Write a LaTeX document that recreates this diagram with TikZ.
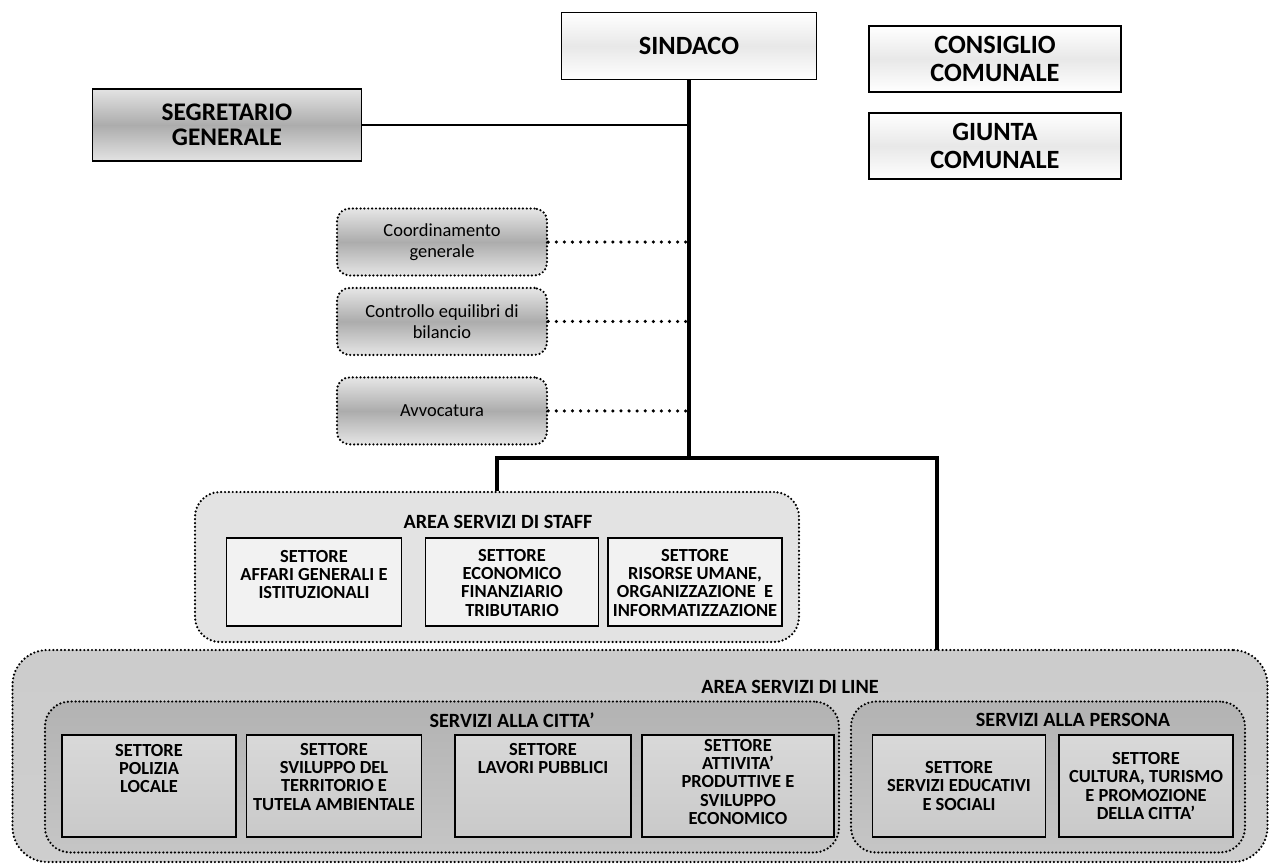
\documentclass[tikz,border=0pt]{standalone}
\usepackage{fontspec}
\setmainfont{Carlito}
\usetikzlibrary{positioning}

\begin{document}
\begin{tikzpicture}[
 x=0.2mm, y=-0.2mm,
 topblock/.style = {draw, thick, rectangle, align=center, inner sep=0pt,
                    font=\fontsize{15}{15.5}\selectfont\bfseries,
                    top color=white, bottom color=white, middle color=gray!18},
 segblock/.style = {draw, thick, rectangle, align=center, inner sep=0pt,
                    font=\fontsize{14.4}{14.5}\selectfont\bfseries,
                    top color=gray!22, bottom color=gray!22, middle color=gray!65},
 dotborder/.style = {draw, line width=1.4pt, dash pattern=on 0pt off 2.2pt, line cap=round},
 offblock/.style = {dotborder, rounded corners=2.5mm, align=center, inner sep=0pt,
                    minimum width=42mm, minimum height=13.4mm,
                    font=\fontsize{10.5}{12}\selectfont,
                    top color=gray!20, bottom color=gray!20, middle color=gray!65},
 area/.style = {dotborder, rounded corners=5mm, inner sep=0pt},
 areatitle/.style = {font=\fontsize{11.5}{12}\selectfont\bfseries},
 settore/.style = {draw, thick, rectangle, inner sep=0pt},
 settext/.style = {align=center, inner sep=0pt, font=\fontsize{10.5}{10.3}\selectfont\bfseries},
 trunk/.style = {line width=1.8pt},
 dotline/.style = {line width=2pt, dash pattern=on 0pt off 4.6pt, line cap=round},
 ]
    \useasboundingbox (0,0) rectangle (1271,865);

    % vertici
    \node [topblock, minimum width=51mm, minimum height=13.4mm] (sindaco) at (689,46) {SINDACO};
    \node [topblock, minimum width=50.4mm, minimum height=13.2mm] (consiglio) at (995,59) {CONSIGLIO\\COMUNALE};
    \node [topblock, minimum width=50.4mm, minimum height=13.2mm] (giunta) at (995,146) {GIUNTA\\COMUNALE};
    \node [segblock, minimum width=53.8mm, minimum height=14.4mm] (segretario) at (227,125) {SEGRETARIO\\GENERALE};

    % uffici
    \node [offblock] (coord) at (442,242) {Coordinamento\\generale};
    \node [offblock, below=2mm of coord] (bilancio) {Controllo equilibri di\\bilancio};
    \node [offblock, below=4mm of bilancio] (avvocatura) {Avvocatura};

    \coordinate (hub) at (689,458);
    \coordinate (lineTop) at (937,650);

    % area staff
    \node [area, fill=gray!22, minimum width=120.8mm, minimum height=30mm] (staff) at (497,567) {};
    \node [areatitle] (staffTitle) at (498,522) {AREA SERVIZI DI STAFF};
    \node [settore, fill=gray!10, minimum width=35mm, minimum height=17.6mm] (affari) at (314,582) {};
    \node [settext, anchor=north, yshift=-2.6mm] at (affari.north) {SETTORE\\AFFARI GENERALI E\\ISTITUZIONALI};
    \node [settore, fill=gray!10, minimum width=34.6mm, minimum height=17.6mm] (economico) at (512,582) {};
    \node [settext, anchor=north, yshift=-2.4mm] at (economico.north) {SETTORE\\ECONOMICO\\FINANZIARIO\\TRIBUTARIO};
    \node [settore, fill=gray!10, minimum width=34.8mm, minimum height=17.6mm] (risorse) at (695,582) {};
    \node [settext, anchor=north, yshift=-2.4mm] at (risorse.north) {SETTORE\\RISORSE UMANE,\\ORGANIZZAZIONE~ E\\INFORMATIZZAZIONE};

    % area line
    \node [area, rounded corners=7mm, minimum width=251mm, minimum height=42.4mm,
           top color=gray!40, middle color=gray!60, bottom color=gray!38] (linea) at (640,756) {};
    \node [areatitle] (lineaTitle) at (790,687) {AREA SERVIZI DI LINE};
    \node [area, minimum width=158.8mm, minimum height=30.2mm,
           top color=gray!60, middle color=gray!38, bottom color=gray!45] (citta) at (442,777) {};
    \node [areatitle] (cittaTitle) at (512,720) {SERVIZI ALLA CITTA'};
    \node [area, minimum width=78.8mm, minimum height=30.2mm,
           top color=gray!60, middle color=gray!38, bottom color=gray!45] (persona) at (1048,777) {};
    \node [areatitle] (personaTitle) at (1073,720) {SERVIZI ALLA PERSONA};

    \foreach \name/\x/\w in {polizia/149/34.8, sviluppo/334/35, lavori/543/35.2, attivita/738/38.4,
                             educativi/959/34.6, cultura/1146/34.8}
       \node [settore, minimum width=\w mm, minimum height=20.4mm,
              top color=gray!30, middle color=gray!10, bottom color=gray!42] (\name) at (\x,786) {};
    \node [settext, anchor=north, yshift=-2mm] at (polizia.north) {SETTORE\\POLIZIA\\LOCALE};
    \node [settext, anchor=north, yshift=-1.8mm] at (sviluppo.north) {SETTORE\\SVILUPPO DEL\\TERRITORIO E\\TUTELA AMBIENTALE};
    \node [settext, anchor=north, yshift=-1.8mm] at (lavori.north) {SETTORE\\LAVORI PUBBLICI};
    \node [settext, anchor=north, yshift=-1mm] at (attivita.north) {SETTORE\\ATTIVITA'\\PRODUTTIVE E\\SVILUPPO\\ECONOMICO};
    \node [settext] at (educativi) {SETTORE\\SERVIZI EDUCATIVI\\E SOCIALI};
    \node [settext] at (cultura) {SETTORE\\CULTURA, TURISMO\\E PROMOZIONE\\DELLA CITTA'};

    % collegamenti
    \draw [trunk] (sindaco) -- (hub);
    \draw [thick] (segretario) -- (segretario -| hub);
    \draw [dotline] (coord) -- (coord -| hub);
    \draw [dotline] (bilancio) -- (bilancio -| hub);
    \draw [dotline] (avvocatura) -- (avvocatura -| hub);
    \draw [trunk] (staff.north) |- (hub) -| (lineTop);

\end{tikzpicture}
\end{document}
